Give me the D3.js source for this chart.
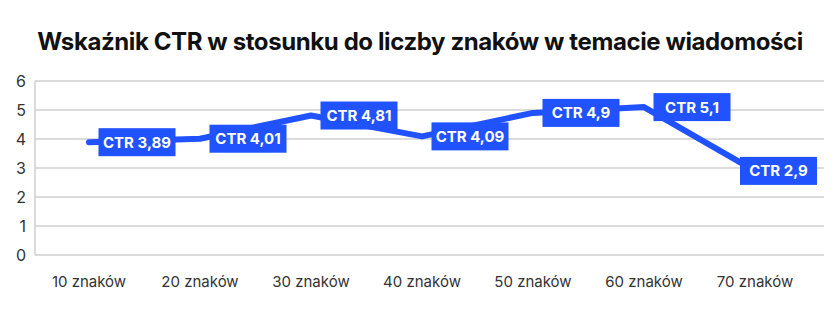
<!DOCTYPE html>
<html lang="pl">
<head>
<meta charset="utf-8">
<script src="https://cdn.jsdelivr.net/npm/d3@7"></script>
<style>
  body { margin: 0; background: #fff; }
  text { font-family: Inter, "Noto Sans", sans-serif; }
</style>
</head>
<body>
<svg width="840" height="327"></svg>
<script>
// data
var categories = ['10 znaków', '20 znaków', '30 znaków', '40 znaków', '50 znaków', '60 znaków', '70 znaków'];
var ctrValues = [3.89, 4.01, 4.81, 4.09, 4.9, 5.1, 2.9];
var ctrLabels = ['CTR 3,89', 'CTR 4,01', 'CTR 4,81', 'CTR 4,09', 'CTR 4,9', 'CTR 5,1', 'CTR 2,9'];
var yTicks = [0, 1, 2, 3, 4, 5, 6];

var blue = '#2152ff';
var svg = d3.select('svg');

var left = 35, right = 824;
var xScale = d3.scalePoint().domain(categories).range([89, 755]);
var yScale = d3.scaleLinear().domain([0, 6]).range([255, 81]);

// title
var title = svg.append('text')
  .attr('x', 420)
  .attr('y', 50)
  .style('text-anchor', 'middle')
  .style('font-size', '24px')
  .style('font-weight', 700)
  .style('letter-spacing', '-0.4px')
  .style('fill', '#111')
  .text('Wskaźnik CTR w stosunku do liczby znaków w temacie wiadomości');

// shrink a bit if wider than the reference title
var tw = title.node().getComputedTextLength();
if (tw > 772) title.style('font-size', (24 * 772 / tw) + 'px');

// grid lines
svg.append('g')
  .selectAll('line')
  .data(yTicks)
  .enter()
  .append('line')
  .attr('x1', left)
  .attr('x2', right)
  .attr('y1', function(d) { return yScale(d); })
  .attr('y2', function(d) { return yScale(d); })
  .style('stroke', '#cfcfcf')
  .style('stroke-width', 1.5);

svg.append('line')
  .attr('x1', left).attr('x2', left)
  .attr('y1', yScale(6)).attr('y2', yScale(0))
  .style('stroke', '#cfcfcf')
  .style('stroke-width', 1.5);

// y labels
svg.append('g')
  .selectAll('text')
  .data(yTicks)
  .enter()
  .append('text')
  .attr('x', 26)
  .attr('y', function(d) { return yScale(d); })
  .attr('dy', '0.36em')
  .style('text-anchor', 'end')
  .style('font-size', '16px')
  .style('fill', '#333')
  .text(function(d) { return d; });

// x labels
svg.append('g')
  .selectAll('text')
  .data(categories)
  .enter()
  .append('text')
  .attr('x', function(d) { return xScale(d); })
  .attr('y', 282)
  .attr('dy', '0.36em')
  .style('text-anchor', 'middle')
  .style('font-size', '15px')
  .style('fill', '#333')
  .text(function(d) { return d; });

// line
var points = categories.map(function(c, i) { return [xScale(c), yScale(ctrValues[i])]; });
svg.append('path')
  .attr('d', d3.line()(points))
  .style('fill', 'none')
  .style('stroke', blue)
  .style('stroke-width', 6)
  .style('stroke-linecap', 'round')
  .style('stroke-linejoin', 'round');

// data labels
var boxW = 77, boxH = 28;
var lbl = svg.append('g')
  .selectAll('g')
  .data(ctrLabels)
  .enter()
  .append('g')
  .attr('transform', function(d, i) {
    var cx = Math.min(points[i][0] + 48, 817 - boxW / 2);
    return 'translate(' + cx + ',' + points[i][1] + ')';
  });

lbl.append('rect')
  .attr('x', -boxW / 2)
  .attr('y', -boxH / 2)
  .attr('width', boxW)
  .attr('height', boxH)
  .style('fill', blue);

lbl.append('text')
  .attr('dy', '0.36em')
  .style('text-anchor', 'middle')
  .style('font-size', '15px')
  .style('font-weight', 700)
  .style('fill', '#fff')
  .text(function(d) { return d; });
</script>
</body>
</html>
